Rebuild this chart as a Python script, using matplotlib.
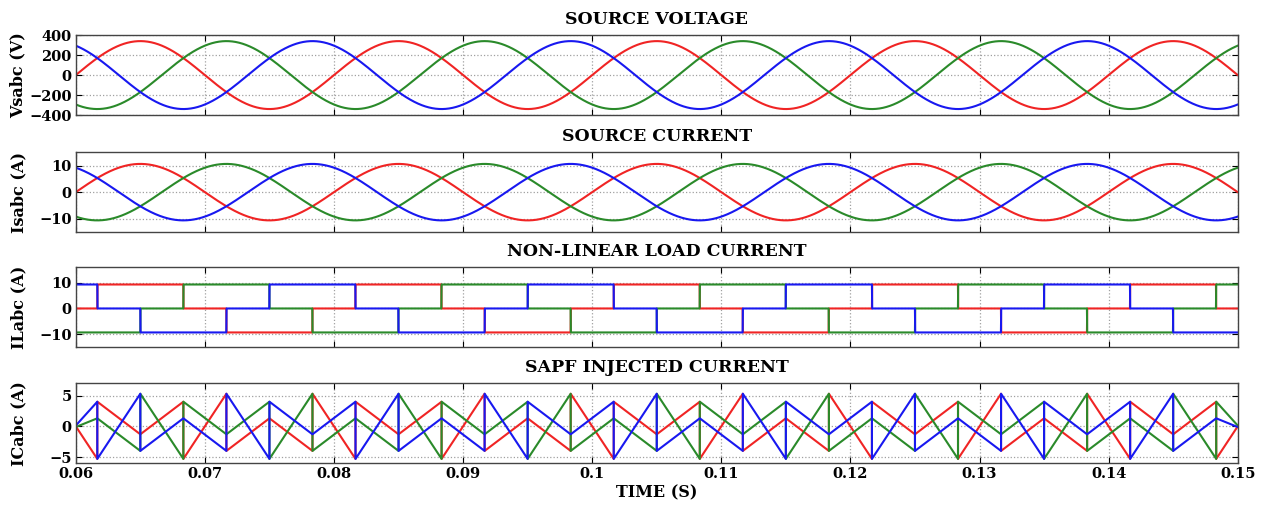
import numpy as np
import matplotlib
matplotlib.use('Agg')
import matplotlib.pyplot as plt

# Values
f_line = 50.0                      # supply frequency (period 0.02 s)
phases = ['a', 'b', 'c']
phase_shift_deg = [0, -120, 120]   # a, b, c
phase_colors = ['#f02424', '#2a8a2a', '#1818f0']

Vs_peak = 340.0      # source voltage peak (V)
Is_peak = 10.6       # source current peak (A)
IL_level = 9.3       # load current plateau (A)

# six-pulse load current: level in each 60 deg sector starting at 30 deg
sector_start_deg = [30, 90, 150, 210, 270, 330]
sector_level = [1, 1, 0, -1, -1, 0]

t_start, t_end = 0.06, 0.15
x_ticks = [0.06, 0.07, 0.08, 0.09, 0.1, 0.11, 0.12, 0.13, 0.14, 0.15]
x_ticklabels = ['0.06', '0.07', '0.08', '0.09', '0.1', '0.11', '0.12', '0.13', '0.14', '0.15']

titles = ['SOURCE VOLTAGE', 'SOURCE CURRENT', 'NON-LINEAR LOAD CURRENT', 'SAPF INJECTED CURRENT']
ylabels = ['Vsabc (V)', 'Isabc (A)', 'ILabc (A)', 'ICabc (A)']
ylims = [(-400, 400), (-15, 15), (-15, 16), (-6, 7)]
yticks = [[-400, -200, 0, 200, 400], [-10, 0, 10], [-10, 0, 10], [-5, 0, 5]]


def angle(t, shift):
    return (360.0 * f_line * t + shift) % 360.0


def load_level(theta):
    out = np.zeros_like(theta, dtype=float)
    for s, lv in zip(sector_start_deg, sector_level):
        m = ((theta - s) % 360.0) < 60.0
        out[m] = lv
    return out * IL_level


t = np.linspace(t_start, t_end, 4000)

# corner instants of the injected-current trace (every 60 deg from 30 deg),
# plus the first and last sample of the record
period = 1.0 / f_line
k = np.arange(0, 60)
t_corner = t_start + (30.0 + 60.0 * k) / 360.0 * period
t_corner = t_corner[t_corner < t_end - 1e-9]
t_corner = np.concatenate([[t_start], t_corner, [t_end]])

plt.rcParams['font.family'] = ['DejaVu Serif']
plt.rcParams['font.weight'] = 'bold'

fig = plt.figure(figsize=(12.63, 5.09), dpi=100)
bottoms = [0.774, 0.544, 0.318, 0.090]
axes = [fig.add_axes([0.060, b, 0.920, 0.157]) for b in bottoms]

for i, ax in enumerate(axes):
    for sh, col in zip(phase_shift_deg, phase_colors):
        th = angle(t, sh)
        if i == 0:
            y = Vs_peak * np.sin(np.deg2rad(th))
            ax.plot(t, y, color=col, lw=1.5)
        elif i == 1:
            y = Is_peak * np.sin(np.deg2rad(th))
            ax.plot(t, y, color=col, lw=1.5)
        elif i == 2:
            y = load_level(th)
            ax.plot(t, y, color=col, lw=1.5)
        else:
            thc = angle(t_corner, sh)
            isrc = Is_peak * np.sin(np.deg2rad(thc))
            il_before = load_level(thc - 1e-6)
            il_after = load_level(thc + 1e-6)
            tt = np.repeat(t_corner, 2)
            yy = np.empty_like(tt)
            yy[0::2] = il_before - isrc
            yy[1::2] = il_after - isrc
            # first and last samples are plain points (no jump)
            yy[0] = yy[1] = load_level(thc[:1])[0] - isrc[0]
            yy[-1] = yy[-2] = load_level(thc[-1:])[0] - isrc[-1]
            ax.plot(tt, yy, color=col, lw=1.5)

    ax.set_xlim(t_start, t_end)
    ax.set_ylim(*ylims[i])
    ax.set_yticks(yticks[i])
    ax.set_xticks(x_ticks)
    ax.grid(True, linestyle=':', color='#a0a0a0', linewidth=0.9)
    ax.tick_params(direction='in', top=True, right=True, length=4,
                   labelsize=10.5, pad=3)
    for sp in ax.spines.values():
        sp.set_color('#444444')
        sp.set_linewidth(1.0)
    ax.set_title(titles[i], fontsize=12.5, fontweight='bold', pad=8)
    ax.set_ylabel(ylabels[i], fontsize=11.5, fontweight='bold')
    if i < 3:
        ax.set_xticklabels([])
    else:
        ax.set_xticklabels(x_ticklabels)
        ax.set_xlabel('TIME (S)', fontsize=11.5, fontweight='bold', labelpad=2)

for ax in axes:
    ax.yaxis.set_label_coords(-0.042, 0.5)

fig.savefig('out.png', dpi=100)
